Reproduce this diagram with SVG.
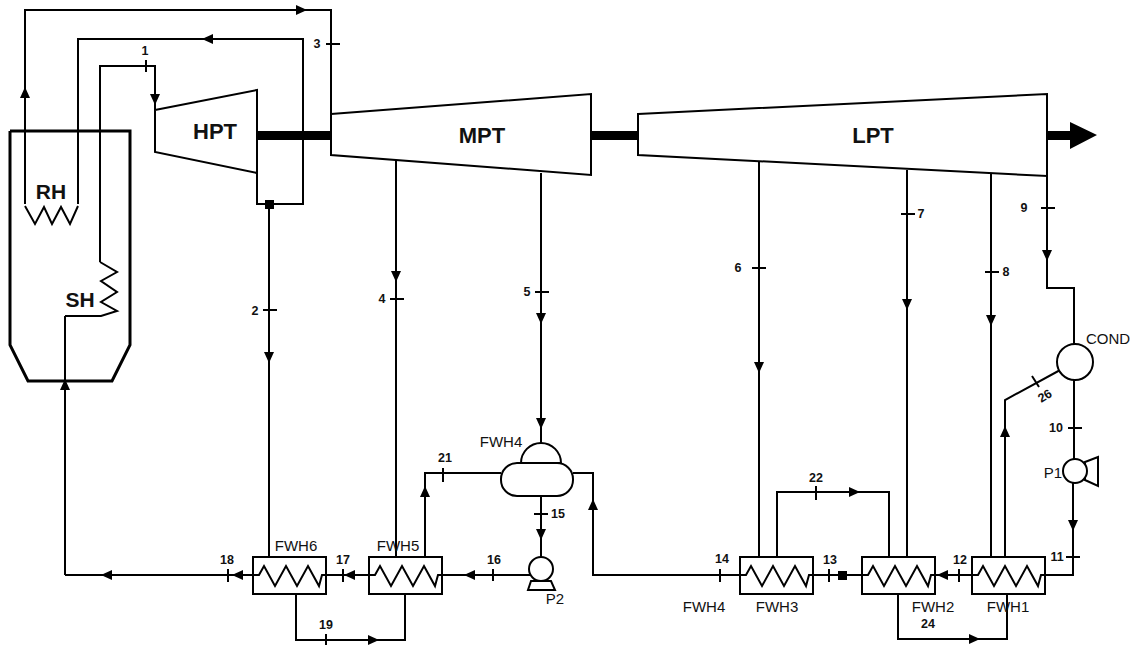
<svg xmlns="http://www.w3.org/2000/svg" xmlns:xlink="http://www.w3.org/1999/xlink" width="1132" height="645" viewBox="0 0 1132 645">
<style>
text{font-family:"Liberation Sans",Arial,sans-serif;fill:#111;text-anchor:middle;dominant-baseline:central}
.n{font-size:12.5px;font-weight:bold}
.l{font-size:15px}
.b{font-size:22px;font-weight:bold}
.m{font-size:21px;font-weight:bold}
.s{fill:#fff;stroke:#000;stroke-width:2;stroke-linejoin:miter}
.o{fill:none;stroke:#000;stroke-width:2}
#connectors path,#connectors line{fill:none;stroke:#000;stroke-width:2}
#connectors use{stroke:none;fill:#000}
</style>
<defs>
<path id="a" d="M-5,-5L5,-5L0,6Z"/>
<g id="hx"><rect class="s" x="0" y="0" width="73" height="37"/><polyline class="o" points="0,18 6,18 11,9 22,29 33,9 44,29 55,9 66,29 69,18 73,18"/></g>
</defs>
<rect width="1132" height="645" fill="#fff"/>
<g id="connectors">
<path d="M25,204V10H331V114"/>
<path d="M78,204V39H303V204H257V173"/>
<path d="M100,262V66H155V110"/>
<path d="M269,204V557"/>
<path d="M396,159V557"/>
<path d="M541,173V443"/>
<path d="M65,575V316"/>
<path d="M253,575H65"/>
<path d="M369,575H326"/>
<path d="M530,575H442"/>
<path d="M425,557V473H501"/>
<path d="M541,496V557"/>
<path d="M573,473H593V575H740"/>
<path d="M296,594V640H405V594"/>
<path d="M759,162V557"/>
<path d="M777,557V492H889V557"/>
<path d="M907,170V557"/>
<path d="M991,173V557"/>
<path d="M1005,557V400L1062,369"/>
<path d="M813,575H862"/>
<path d="M935,575H972"/>
<path d="M1045,575H1073V483"/>
<path d="M1047,176V288H1074V344"/>
<path d="M1074,380V459"/>
<path d="M898,594V639H1007V594"/>
<path d="M146,60V72M326,44H340M263,310H277M390,299H404M535,292H549M752,268H766M901,214H915M985,272H999M1041,208H1055M1068,428H1082M1066,557H1080M534,514H548M443,468V482M493,569V581M343,569V582M228,569V582M326,634V645M816,486V500M720,569V582M829,569V582M959,569V582M1032,376L1039,387"/>
<use xlink:href="#a" href="#a" transform="translate(155,99)"/>
<use xlink:href="#a" href="#a" transform="translate(269,357)"/>
<use xlink:href="#a" href="#a" transform="translate(396,276)"/>
<use xlink:href="#a" href="#a" transform="translate(541,318)"/>
<use xlink:href="#a" href="#a" transform="translate(541,423)"/>
<use xlink:href="#a" href="#a" transform="translate(541,534)"/>
<use xlink:href="#a" href="#a" transform="translate(759,367)"/>
<use xlink:href="#a" href="#a" transform="translate(907,304)"/>
<use xlink:href="#a" href="#a" transform="translate(991,320)"/>
<use xlink:href="#a" href="#a" transform="translate(1047,255)"/>
<use xlink:href="#a" href="#a" transform="translate(1073,525)"/>
<use xlink:href="#a" href="#a" transform="translate(25,93) rotate(180)"/>
<use xlink:href="#a" href="#a" transform="translate(65,385) rotate(180)"/>
<use xlink:href="#a" href="#a" transform="translate(425,492) rotate(180)"/>
<use xlink:href="#a" href="#a" transform="translate(593,505) rotate(180)"/>
<use xlink:href="#a" href="#a" transform="translate(1005,432) rotate(180)"/>
<use xlink:href="#a" href="#a" transform="translate(301,10) rotate(-90)"/>
<use xlink:href="#a" href="#a" transform="translate(373,640) rotate(-90)"/>
<use xlink:href="#a" href="#a" transform="translate(854,492) rotate(-90)"/>
<use xlink:href="#a" href="#a" transform="translate(974,639) rotate(-90)"/>
<use xlink:href="#a" href="#a" transform="translate(208,39) rotate(90)"/>
<use xlink:href="#a" href="#a" transform="translate(107,575) rotate(90)"/>
<use xlink:href="#a" href="#a" transform="translate(238,575) rotate(90)"/>
<use xlink:href="#a" href="#a" transform="translate(350,575) rotate(90)"/>
<use xlink:href="#a" href="#a" transform="translate(470,575) rotate(90)"/>
<use xlink:href="#a" href="#a" transform="translate(943,575) rotate(90)"/>
<rect x="265" y="200" width="9" height="9" fill="#000"/>
<rect x="838" y="571" width="9" height="9" fill="#000"/>
<rect x="257" y="131" width="74" height="9" fill="#000"/>
<rect x="591" y="131" width="47" height="9" fill="#000"/>
<polygon points="1047,131 1070,131 1070,122 1097,135 1070,149 1070,140 1047,140" fill="#000"/>
</g>
<g id="boiler"><polyline points="10,131 130,131 130,345 112,381 28,381 10,345 10,131" fill="none" stroke="#000" stroke-width="3"/>
<polyline class="o" points="25,206 35,224 44,207 52,224 61,207 70,224 78,206"/>
<polyline class="o" points="100,262 117,272 101,281 117,292 101,302 117,311 101,316 65,316"/>
<text class="m" x="51" y="191">RH</text><text class="m" x="80" y="299">SH</text></g>
<g id="HPT"><polygon class="s" points="155,110 257,90 257,173 155,152"/><text class="b" x="215" y="131">HPT</text></g>
<g id="MPT"><polygon class="s" points="331,114 591,94 591,175 331,155"/><text class="b" x="482" y="135">MPT</text></g>
<g id="LPT"><polygon class="s" points="638,114 1047,94 1047,176 638,155"/><text class="b" x="873" y="135">LPT</text></g>
<g id="FWH6"><use xlink:href="#hx" href="#hx" x="253" y="557"/><text class="l" x="296" y="545">FWH6</text></g>
<g id="FWH5"><use xlink:href="#hx" href="#hx" x="369" y="557"/><text class="l" x="398" y="545">FWH5</text></g>
<g id="FWH3"><use xlink:href="#hx" href="#hx" x="740" y="557"/><text class="l" x="777" y="606">FWH3</text></g>
<g id="FWH2"><use xlink:href="#hx" href="#hx" x="862" y="557"/><text class="l" x="933" y="606">FWH2</text></g>
<g id="FWH1"><use xlink:href="#hx" href="#hx" x="972" y="557"/><text class="l" x="1008" y="606">FWH1</text></g>
<g id="FWH4"><path class="s" d="M521,463A20,20 0 0 1 561,463Z"/><rect class="s" x="501" y="463" width="72" height="33" rx="16" ry="16"/><text class="l" x="501" y="441">FWH4</text></g>
<g id="P2"><polygon class="s" points="531,581 528,590 555,590 551,581"/><circle class="s" cx="541" cy="569" r="12"/><text class="l" x="555" y="598">P2</text></g>
<g id="P1"><polygon class="s" points="1085,462 1098,457 1098,486 1085,480"/><circle class="s" cx="1075" cy="471" r="12"/><text class="l" x="1053" y="472">P1</text></g>
<g id="COND"><circle class="s" cx="1075" cy="362" r="18"/><text class="l" x="1108" y="338">COND</text></g>
<g id="labels">
<text class="n" x="145" y="51">1</text><text class="n" x="255" y="311">2</text><text class="n" x="317" y="44">3</text><text class="n" x="382" y="299">4</text><text class="n" x="527" y="292">5</text><text class="n" x="738" y="268">6</text><text class="n" x="921" y="214">7</text><text class="n" x="1006" y="272">8</text><text class="n" x="1024" y="208">9</text><text class="n" x="1056" y="428">10</text><text class="n" x="1057" y="557">11</text><text class="n" x="960" y="560">12</text><text class="n" x="830" y="560">13</text><text class="n" x="722" y="559">14</text><text class="n" x="558" y="514">15</text><text class="n" x="494" y="560">16</text><text class="n" x="343" y="560">17</text><text class="n" x="227" y="560">18</text><text class="n" x="326" y="625">19</text><text class="n" x="445" y="458">21</text><text class="n" x="816" y="478">22</text><text class="n" x="928" y="624">24</text><text class="n" transform="translate(1045,396) rotate(-32)">26</text>
<text class="l" x="704" y="606">FWH4</text></g>
</svg>
